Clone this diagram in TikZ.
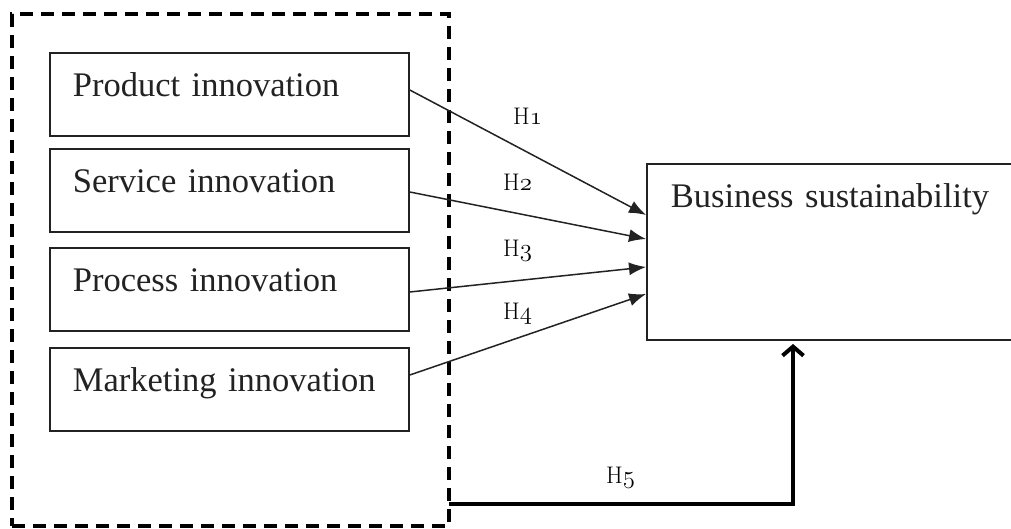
\documentclass[tikz,border=0pt]{standalone}
\usepackage{fontspec}
\newfontfamily\tnr{Liberation Serif}
\usetikzlibrary{arrows.meta}
\definecolor{ink}{HTML}{222222}
\begin{document}
\begin{tikzpicture}[x=1pt,y=-1pt,
  box/.style={draw=ink, line width=1.8pt, anchor=north west, font=\tnr\fontsize{34.5}{36}\selectfont,
    text=ink, align=left, inner xsep=23pt, inner ysep=0pt, text height=44pt, text depth=39pt,
    minimum width=359pt, text width=313pt},
  bizbox/.style={draw=ink, line width=1.8pt, anchor=north west, font=\tnr\fontsize{34.5}{36}\selectfont,
    text=ink, align=left, inner xsep=24pt, inner ysep=0pt, text height=44pt, text depth=132pt,
    text width=322pt, minimum width=370pt},
  grp/.style={draw=black, line width=4pt, dash pattern=on 13pt off 8pt, minimum width=437pt, minimum height=512pt, inner sep=0pt},
  hyp/.style={draw=ink, line width=1.5pt, -{Latex[length=17pt,width=13pt]}},
  hlab/.style={anchor=base west, inner sep=0pt, text=black, font=\fontsize{24}{26}\selectfont},
  main/.style={draw=black, line width=4pt, -{Straight Barb[length=9pt,width=21pt,line width=4pt]}, shorten >=5pt}
]
\useasboundingbox (0,0) rectangle (1011,529);
\node[grp] (grp) at (230.5,270) {};
\node[box] (prod) at (49,52) {Product innovation};
\node[box] (serv) at (49,148) {Service innovation};
\node[box] (proc) at (49,247) {Process innovation};
\node[box] (mark) at (49,347) {Marketing innovation};
\node[bizbox] (biz) at (646,163) {Business sustainability};

\draw[hyp] ([yshift=-38pt]prod.north east) -- ([yshift=-52pt]biz.north west);
\draw[hyp] ([yshift=-44pt]serv.north east) -- ([yshift=-76pt]biz.north west);
\draw[hyp] ([yshift=-45pt]proc.north east) -- ([yshift=-104pt]biz.north west);
\draw[hyp] ([yshift=-28pt]mark.north east) -- ([yshift=-131pt]biz.north west);

\node[hlab] (h1) at (513,125) {H$\mathnormal{1}$};
\node[hlab] (h2) at (503,191) {H$\mathnormal{2}$};
\node[hlab] (h3) at (503,256) {H$\mathnormal{3}$};
\node[hlab] (h4) at (503,319) {H$\mathnormal{4}$};
\node[hlab] (h5) at (606,483) {H$\mathnormal{5}$};

\coordinate (h5s) at (449,504);
\coordinate (h5e) at (793,339);
\draw[main] (h5s) -| (h5e);
\end{tikzpicture}
\end{document}
